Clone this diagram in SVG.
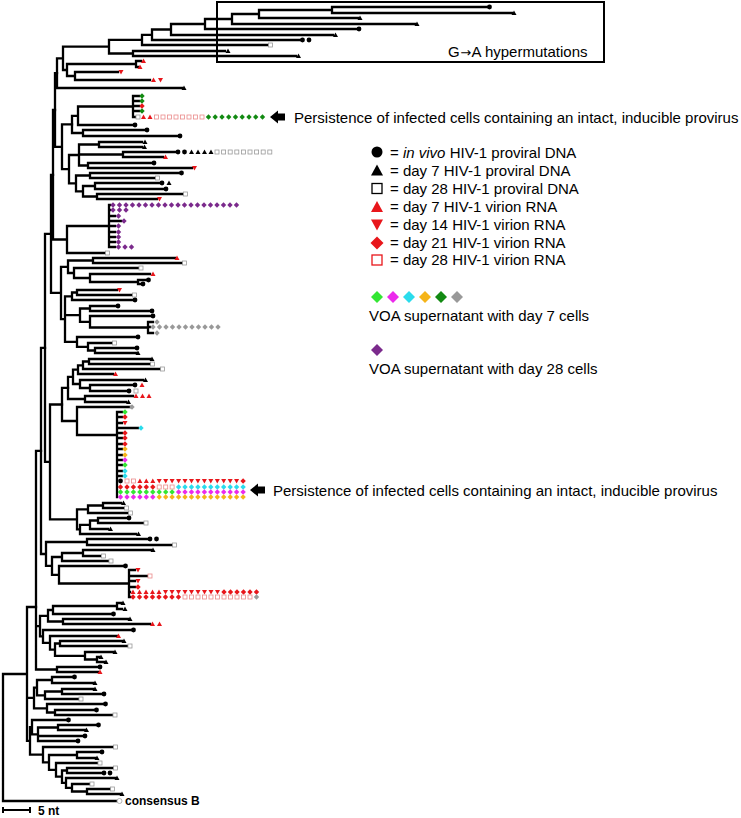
<svg xmlns="http://www.w3.org/2000/svg" width="741" height="818" viewBox="0 0 741 818">
<style>
.br{fill:none;stroke:#000;stroke-width:2.3;stroke-linecap:square}
.k{fill:#000}.r{fill:#e8161b}.g{fill:#33e633}.m{fill:#ec2aec}.c{fill:#2adcec}.y{fill:#f5b419}.dg{fill:#128a12}.gr{fill:#999}.p{fill:#7b2a8c}
.sq{fill:#fff;stroke:#999;stroke-width:.8}.sr{fill:#fff;stroke:#ea8a8a;stroke-width:.8}
text{font-family:"Liberation Sans",Arial,sans-serif;font-size:15px;fill:#000}
.b{font-weight:bold;font-size:12px}
</style>
<defs>
<circle id="o" r="2.4"/>
<path id="t" d="M0-2.5L2.5 1.9H-2.5Z"/>
<path id="v" d="M0 2.5L2.5-1.9H-2.5Z"/>
<path id="d" d="M0-2.7L2.7 0L0 2.7L-2.7 0Z"/>
<rect id="s" x="-2" y="-2" width="4" height="4"/>
</defs>
<rect width="741" height="818" fill="#fff"/>

<g id="connectors">
<path class="br" d="M332 7V13M332 7H487M332 13H512M259 10V18M259 10H332M259 18H358M232 14V24M232 14H259M232 24H415M205 19V29M205 19H232M205 29H357M171 24V35M171 24H205M171 35H333M152 29.5V40M152 29.5H171M152 40H300M142 34.8V45M142 34.8H152M142 45H268M133 51V56M133 51H225M133 56H296M109 39.9V53.5M109 39.9H142M109 53.5H133M136 61V67M136 61H141M136 67H138M75 72V80M75 72H118M75 80H150M67 64V76M67 64H136M67 76H75M63 46.7V70M63 46.7H109M63 70H67M57 58.4V88M57 58.4H63M57 88H182"/>
<path class="br" d="M133 96V117M133 96H139M133 101H139M133 106H139M133 111H139M133 117H135M78 106.5V125M78 106.5H133M78 125H133M83 130V136M83 130H145M83 136H178M72 115.8V133M72 115.8H78M72 133H83"/>
<path class="br" d="M99 142V147M99 142H142M99 147H142M123 152V157M123 152H175M123 157H163M88 163V168M88 163H152M88 168H192M79 144.5V165.5M79 144.5H99M79 154.5H123M79 165.5H88M90 173V178M90 173H179M90 178H155M95 183V189M95 183H160M95 189H164M97 194V199M97 194H183M97 199H157M83 186V196.5M83 186H95M83 196.5H97M76 175.5V191.3M76 175.5H90M76 191.3H83M69 155V183.4M69 155H79M69 183.4H76M62 124.4V169.2M62 124.4H72M62 169.2H69M55 73.2V146.8M55 73.2H57M55 146.8H62"/>
<path class="br" d="M109 205V247M109 205H110M109 210H110M109 216H115M109 221H121M109 226H115M109 232H115M109 237H115M109 242H115M109 247H115M67 226V253M67 226H109M67 253H105M53 110V239.5M53 110H55M53 239.5H67"/>
<path class="br" d="M93 258V263M93 258H175M93 263H182M138 280V284M138 280H146M138 284H141M90 274V282M90 274H150M90 282H138M74 268V278M74 268H138M74 278H90M68 260.5V273M68 260.5H93M68 273H74M77 290V295M77 290H117M77 295H132M72 292.5V300M72 292.5H77M72 300H133M90 306V311M90 306H116M90 311H150M148 322V333M148 322H153M148 327H150M148 333H153M90 316V327.5M90 316H151M90 327.5H148M80 308.5V321.8M80 308.5H90M80 321.8H90M95 348V353M95 348H135M95 353H136M88 343V350.5M88 343H112M88 350.5H95M77 337V346.8M77 337H136M77 346.8H88M65 296.3V341.9M65 296.3H72M65 315.1H80M65 341.9H77M61 266.8V319.1M61 266.8H68M61 319.1H65M51 174.8V292.9M51 174.8H53M51 292.9H61"/>
<path class="br" d="M89 359V364M89 359H150M89 364H150M83 361.5V369M83 361.5H89M83 369H160M78 365.3V374M78 365.3H83M78 374H113M90 385V391M90 385H133M90 391H127M80 380V388M80 380H143M80 388H90M73 369.6V384M73 369.6H78M73 384H80M85 396V402M85 396H133M85 402H126M68 376.8V399M68 376.8H73M68 399H85"/>
<path class="br" d="M117 412V497M117 412H122M117 417H122M117 423H122M117 428H138M117 433H122M117 438H122M117 444H122M117 449H122M117 455H122M117 460H122M117 465H122M117 471H122M117 476H122M77 407V435M77 407H130M77 435H117M62 387.9V421M62 387.9H68M62 421H77"/>
<path class="br" d="M103 503V508M103 503H121M103 508H124M88 505.5V513M88 505.5H103M88 513H128M98 518V523M98 518H127M98 523H143M90 520.5V529M90 520.5H98M90 529H108M80 524.8V534M80 524.8H90M80 534H136M77 509.3V529.4M77 509.3H88M77 529.4H80M50 404.5V519.3M50 404.5H62M50 519.3H77M45 233.8V461.9M45 233.8H51M45 461.9H50"/>
<path class="br" d="M87 539V545M87 539H148M87 545H172M83 550V556M83 550H151M83 556H100M62 553V561M62 553H83M62 561H108M129 570V597M129 570H135M129 576H147M129 581H135M129 587H135M129 592H130M129 597H130M59 566V583.5M59 566H123M59 583.5H129M52 557V574.8M52 557H62M52 574.8H59M46 542V565.9M46 542H87M46 565.9H52M41 347.9V554M41 347.9H45M41 554H46"/>
<path class="br" d="M117 603V609M117 603H121M117 609H122M53 606V614M53 606H117M53 614H112M63 619V624M63 619H128M63 624H150M48 610V621.5M48 610H53M48 621.5H63M60 641V646M60 641H122M60 646H128M97 657V662M97 657H99M97 662H104M85 652V659.5M85 652H113M85 659.5H97M55 643.5V655.8M55 643.5H60M55 655.8H85M50 636V649.6M50 636H117M50 649.6H55M43 630V642.8M43 630H132M43 642.8H50M40 615.8V636.4M40 615.8H48M40 636.4H43M57 667V672M57 667H98M57 672H98M36 450.9V669.5M36 450.9H41M36 626.1H40M36 669.5H57"/>
<path class="br" d="M52 677V683M52 677H73M52 683H93M62 689V694M62 689H93M62 694H102M45 691.5V699M45 691.5H62M45 699H79M37 680V695.3M37 680H52M37 695.3H45M55 710V715M55 710H95M55 715H113M47 704V712.5M47 704H104M47 712.5H55M34 687.6V708.3M34 687.6H37M34 708.3H47M58 725V730M58 725H97M58 730H85M38 727.5V741M38 727.5H58M38 736H83M38 741H77M32 720V734.3M32 720H67M32 734.3H38M77 752V758M77 752H100M77 758H95M87 789V794M87 789H110M87 794H120M72 784V791.5M72 784H90M72 791.5H87M66 778V787.8M66 778H115M66 787.8H72M67 768V773M67 768H113M67 773H102M62 770.5V782.9M62 770.5H67M62 782.9H66M56 763V776.7M56 763H98M56 776.7H62M49 755V769.9M49 755H77M49 769.9H56M43 747V762.4M43 747H113M43 762.4H49M30 727.1V754.7M30 727.1H32M30 754.7H43M27 607V740.9M27 607H36M27 697.9H34M27 740.9H30M3 674V801M3 674H27M3 801H117"/>
</g>

<g id="hypermutation-clade-markers">
<use href="#o" class="k" x="489.5" y="7"/><use href="#t" class="k" x="514" y="13"/><use href="#t" class="k" x="360" y="18"/><use href="#t" class="k" x="417" y="24"/><use href="#o" class="k" x="359" y="29"/><use href="#t" class="k" x="335.5" y="35"/><use href="#o" class="k" x="302.5" y="40"/><use href="#o" class="k" x="309" y="40"/><use href="#s" class="sq" x="270.5" y="45"/><use href="#t" class="k" x="228" y="51"/><use href="#t" class="k" x="298.5" y="56"/>
</g>
<g id="leaf-markers-top">
<use href="#t" class="r" x="143.5" y="61"/><use href="#t" class="r" x="140" y="67"/><use href="#v" class="r" x="121" y="72"/><use href="#t" class="r" x="153.5" y="80"/><use href="#v" class="r" x="160.5" y="80"/><use href="#t" class="k" x="184" y="88"/>
<use href="#d" class="dg" x="142" y="96"/><use href="#d" class="dg" x="142" y="101"/><use href="#d" class="r" x="142" y="106"/><use href="#d" class="dg" x="142" y="111"/>
<g transform="translate(0,117)"><use href="#s" class="sq" x="138"/><use href="#t" class="r" x="143.5"/><use href="#t" class="r" x="150"/><use href="#s" class="sr" x="156.5"/><use href="#s" class="sr" x="163"/><use href="#s" class="sr" x="169.5"/><use href="#s" class="sr" x="176"/><use href="#s" class="sr" x="182.5"/><use href="#s" class="sr" x="189"/><use href="#s" class="sr" x="195.5"/><use href="#s" class="sr" x="202"/><use href="#d" class="dg" x="208.5"/><use href="#d" class="dg" x="215.2"/><use href="#d" class="dg" x="222"/><use href="#d" class="dg" x="228.7"/><use href="#d" class="dg" x="235.5"/><use href="#d" class="dg" x="242.2"/><use href="#d" class="dg" x="249"/><use href="#d" class="dg" x="255.7"/><use href="#d" class="dg" x="262.5"/></g>
<use href="#o" class="k" x="135" y="125"/><use href="#o" class="k" x="147" y="130"/><use href="#o" class="k" x="180" y="136"/><use href="#t" class="k" x="145" y="142"/><use href="#t" class="k" x="144.5" y="147"/>
<g transform="translate(0,152)"><use href="#o" class="k" x="178"/><use href="#o" class="k" x="184.5"/><use href="#t" class="k" x="191.5"/><use href="#t" class="k" x="198"/><use href="#t" class="k" x="204.5"/><use href="#t" class="k" x="211"/><use href="#s" class="sq" x="217"/><use href="#s" class="sq" x="223.6"/><use href="#s" class="sq" x="230.2"/><use href="#s" class="sq" x="236.8"/><use href="#s" class="sq" x="243.4"/><use href="#s" class="sq" x="250"/><use href="#s" class="sq" x="256.6"/><use href="#s" class="sq" x="263.2"/><use href="#s" class="sq" x="269.8"/></g>
<use href="#t" class="r" x="165.5" y="157"/><use href="#o" class="k" x="154" y="163"/><use href="#v" class="r" x="194.5" y="168"/><use href="#o" class="k" x="181.5" y="173"/><use href="#s" class="sq" x="157.5" y="178"/><use href="#o" class="k" x="162" y="183"/><use href="#t" class="k" x="169" y="183"/><use href="#o" class="k" x="166" y="189"/><use href="#s" class="sq" x="185.5" y="194"/><use href="#v" class="r" x="159.5" y="199"/>
</g>
<g id="purple-clade-markers">
<g transform="translate(0,205)"><use href="#d" class="p" x="113"/><use href="#d" class="p" x="119.5"/><use href="#d" class="p" x="126"/><use href="#d" class="p" x="132.5"/><use href="#d" class="p" x="139"/><use href="#d" class="p" x="145.5"/><use href="#d" class="p" x="152"/><use href="#d" class="p" x="158.5"/><use href="#d" class="p" x="165"/><use href="#d" class="p" x="171.5"/><use href="#d" class="p" x="178"/><use href="#d" class="p" x="184.5"/><use href="#d" class="p" x="191"/><use href="#d" class="p" x="197.5"/><use href="#d" class="p" x="204"/><use href="#d" class="p" x="210.5"/><use href="#d" class="p" x="217"/><use href="#d" class="p" x="223.5"/><use href="#d" class="p" x="230"/><use href="#d" class="p" x="236.5"/></g>
<use href="#d" class="p" x="113" y="210"/><use href="#d" class="p" x="119.5" y="210"/><use href="#d" class="p" x="126" y="210"/><use href="#d" class="p" x="118.5" y="216"/><use href="#d" class="p" x="124" y="221"/><use href="#d" class="p" x="118.5" y="226"/><use href="#d" class="p" x="118.5" y="232"/><use href="#d" class="p" x="118.5" y="237"/><use href="#d" class="p" x="118.5" y="242"/><use href="#d" class="p" x="118.5" y="247"/><use href="#d" class="p" x="125" y="247"/><use href="#d" class="p" x="131.5" y="247"/>
<use href="#s" class="sq" x="107.5" y="253"/>
</g>
<g id="leaf-markers-middle">
<use href="#t" class="r" x="177" y="258"/><use href="#s" class="sq" x="184.5" y="263"/><use href="#s" class="sq" x="141" y="268"/><use href="#t" class="r" x="153" y="274"/><use href="#o" class="k" x="148.5" y="280"/><use href="#o" class="k" x="143" y="284"/><use href="#v" class="r" x="119.5" y="290"/><use href="#s" class="sq" x="134.5" y="295"/><use href="#o" class="k" x="135" y="300"/><use href="#o" class="k" x="118" y="306"/><use href="#o" class="k" x="152" y="311"/><use href="#o" class="k" x="153" y="316"/>
<use href="#d" class="gr" x="157" y="322"/><use href="#d" class="gr" x="157" y="333"/>
<g transform="translate(0,327)"><use href="#d" class="gr" x="153"/><use href="#d" class="gr" x="159.5"/><use href="#d" class="gr" x="166"/><use href="#d" class="gr" x="172.5"/><use href="#d" class="gr" x="179"/><use href="#d" class="gr" x="185.5"/><use href="#d" class="gr" x="192"/><use href="#d" class="gr" x="198.5"/><use href="#d" class="gr" x="205"/><use href="#d" class="gr" x="211.5"/><use href="#d" class="gr" x="218"/></g>
<use href="#o" class="k" x="138" y="337"/><use href="#s" class="sq" x="114.5" y="343"/><use href="#o" class="k" x="137" y="348"/><use href="#t" class="k" x="138" y="353"/><use href="#t" class="k" x="152" y="359"/><use href="#s" class="sq" x="152.5" y="364"/><use href="#s" class="sq" x="162.5" y="369"/><use href="#t" class="r" x="115.5" y="374"/><use href="#t" class="k" x="145.5" y="380"/><use href="#o" class="k" x="135" y="385"/><use href="#t" class="r" x="142" y="385"/><use href="#o" class="k" x="129" y="391"/><use href="#s" class="sq" x="136" y="391"/><use href="#t" class="r" x="136" y="396"/><use href="#t" class="r" x="142.5" y="396"/><use href="#t" class="r" x="149" y="396"/><use href="#t" class="k" x="128.5" y="402"/><use href="#d" class="gr" x="132" y="407"/>
</g>
<g id="persistent-clone-markers">
<use href="#d" class="g" x="125" y="412"/><use href="#d" class="r" x="125" y="417"/><use href="#v" class="r" x="125" y="423"/><use href="#d" class="c" x="141" y="428"/><use href="#d" class="r" x="125" y="433"/><use href="#d" class="r" x="125" y="438"/><use href="#d" class="r" x="125" y="444"/><use href="#d" class="y" x="125" y="449"/><use href="#d" class="y" x="125" y="455"/><use href="#d" class="m" x="125" y="460"/><use href="#d" class="g" x="125" y="465"/><use href="#d" class="c" x="125" y="471"/><use href="#d" class="c" x="125" y="476"/>
<g transform="translate(0,481)"><use href="#o" class="k" x="120.5"/><use href="#s" class="sr" x="127"/><use href="#s" class="sr" x="133.4"/><use href="#t" class="r" x="139.9"/><use href="#t" class="r" x="146.3"/><use href="#t" class="r" x="152.8"/><use href="#v" class="r" x="159.2"/><use href="#v" class="r" x="165.7"/><use href="#v" class="r" x="172.1"/><use href="#v" class="r" x="178.6"/><use href="#v" class="r" x="185"/><use href="#v" class="r" x="191.5"/><use href="#v" class="r" x="197.9"/><use href="#v" class="r" x="204.4"/><use href="#v" class="r" x="210.8"/><use href="#v" class="r" x="217.3"/><use href="#v" class="r" x="223.7"/><use href="#v" class="r" x="230.2"/><use href="#v" class="r" x="236.6"/><use href="#d" class="r" x="243.1"/></g>
<g transform="translate(0,487)"><use href="#d" class="r" x="120.5"/><use href="#d" class="r" x="127"/><use href="#d" class="r" x="133.4"/><use href="#d" class="r" x="139.9"/><use href="#d" class="r" x="146.3"/><use href="#d" class="r" x="152.8"/><use href="#s" class="sr" x="159.2"/><use href="#s" class="sr" x="165.7"/><use href="#s" class="sr" x="172.1"/><use href="#d" class="c" x="178.6"/><use href="#d" class="c" x="185"/><use href="#d" class="c" x="191.5"/><use href="#d" class="c" x="197.9"/><use href="#d" class="c" x="204.4"/><use href="#d" class="c" x="210.8"/><use href="#d" class="c" x="217.3"/><use href="#d" class="c" x="223.7"/><use href="#d" class="c" x="230.2"/><use href="#d" class="c" x="236.6"/><use href="#d" class="c" x="243.1"/></g>
<g transform="translate(0,492)"><use href="#d" class="g" x="120.5"/><use href="#d" class="g" x="127"/><use href="#d" class="g" x="133.4"/><use href="#d" class="g" x="139.9"/><use href="#d" class="g" x="146.3"/><use href="#d" class="g" x="152.8"/><use href="#d" class="g" x="159.2"/><use href="#d" class="g" x="165.7"/><use href="#d" class="g" x="172.1"/><use href="#d" class="m" x="178.6"/><use href="#d" class="m" x="185"/><use href="#d" class="m" x="191.5"/><use href="#d" class="m" x="197.9"/><use href="#d" class="m" x="204.4"/><use href="#d" class="m" x="210.8"/><use href="#d" class="m" x="217.3"/><use href="#d" class="m" x="223.7"/><use href="#d" class="m" x="230.2"/><use href="#d" class="m" x="236.6"/><use href="#d" class="m" x="243.1"/></g>
<g transform="translate(0,497)"><use href="#d" class="m" x="120.5"/><use href="#d" class="m" x="127"/><use href="#d" class="m" x="133.4"/><use href="#d" class="m" x="139.9"/><use href="#d" class="m" x="146.3"/><use href="#d" class="m" x="152.8"/><use href="#d" class="y" x="159.2"/><use href="#d" class="y" x="165.7"/><use href="#d" class="y" x="172.1"/><use href="#d" class="y" x="178.6"/><use href="#d" class="y" x="185"/><use href="#d" class="y" x="191.5"/><use href="#d" class="y" x="197.9"/><use href="#d" class="y" x="204.4"/><use href="#d" class="y" x="210.8"/><use href="#d" class="y" x="217.3"/><use href="#d" class="y" x="223.7"/><use href="#d" class="y" x="230.2"/><use href="#d" class="y" x="236.6"/><use href="#d" class="y" x="243.1"/></g>
</g>
<g id="leaf-markers-lower">
<use href="#t" class="k" x="123.5" y="503"/><use href="#s" class="sq" x="126.5" y="508"/><use href="#s" class="sq" x="130.5" y="513"/><use href="#o" class="k" x="129" y="518"/><use href="#s" class="sq" x="146" y="523"/><use href="#t" class="k" x="110.5" y="529"/><use href="#t" class="k" x="138.5" y="534"/><use href="#o" class="k" x="150" y="539"/><use href="#o" class="k" x="156.5" y="539"/><use href="#s" class="sq" x="174.5" y="545"/><use href="#t" class="k" x="153" y="550"/><use href="#s" class="sq" x="103.5" y="556"/><use href="#s" class="sq" x="111" y="561"/><use href="#o" class="k" x="125.5" y="566"/>
<use href="#v" class="r" x="138" y="570"/><use href="#s" class="sr" x="150" y="576"/><use href="#v" class="r" x="138" y="581"/><use href="#d" class="r" x="138" y="587"/>
<g transform="translate(0,592)"><use href="#t" class="r" x="133"/><use href="#t" class="r" x="139.5"/><use href="#t" class="r" x="146"/><use href="#t" class="r" x="152.5"/><use href="#t" class="r" x="159"/><use href="#v" class="r" x="165.5"/><use href="#v" class="r" x="172"/><use href="#v" class="r" x="178.5"/><use href="#v" class="r" x="185"/><use href="#v" class="r" x="191.5"/><use href="#v" class="r" x="198"/><use href="#v" class="r" x="204.5"/><use href="#v" class="r" x="211"/><use href="#v" class="r" x="217.5"/><use href="#d" class="r" x="224"/><use href="#d" class="r" x="230.5"/><use href="#d" class="r" x="237"/><use href="#d" class="r" x="243.5"/><use href="#d" class="r" x="250"/><use href="#d" class="r" x="256.5"/></g>
<g transform="translate(0,597)"><use href="#d" class="r" x="133"/><use href="#d" class="r" x="139.5"/><use href="#d" class="r" x="146"/><use href="#d" class="r" x="152.5"/><use href="#d" class="r" x="159"/><use href="#d" class="r" x="165.5"/><use href="#d" class="r" x="172"/><use href="#d" class="r" x="178.5"/><use href="#s" class="sr" x="185"/><use href="#s" class="sr" x="191.5"/><use href="#s" class="sr" x="198"/><use href="#s" class="sr" x="204.5"/><use href="#s" class="sr" x="211"/><use href="#s" class="sr" x="217.5"/><use href="#s" class="sr" x="224"/><use href="#s" class="sr" x="230.5"/><use href="#s" class="sr" x="237"/><use href="#s" class="sr" x="243.5"/><use href="#s" class="sr" x="250"/><use href="#d" class="gr" x="256.5"/></g>
<use href="#t" class="k" x="123" y="603"/><use href="#t" class="k" x="125" y="609"/><use href="#o" class="k" x="113.5" y="614"/><use href="#t" class="k" x="130" y="619"/><use href="#t" class="r" x="152.5" y="624"/><use href="#t" class="r" x="159.5" y="624"/><use href="#o" class="k" x="133.5" y="630"/><use href="#t" class="r" x="118.5" y="636"/><use href="#t" class="k" x="124" y="641"/><use href="#s" class="sq" x="130" y="646"/><use href="#t" class="k" x="115" y="652"/><use href="#t" class="k" x="101" y="657"/><use href="#t" class="k" x="106" y="662"/><use href="#o" class="k" x="100" y="667"/><use href="#t" class="r" x="100" y="672"/>
<use href="#o" class="k" x="74.5" y="677"/><use href="#t" class="k" x="95" y="683"/><use href="#t" class="k" x="95" y="689"/><use href="#o" class="k" x="104" y="694"/><use href="#s" class="sq" x="81" y="699"/><use href="#o" class="k" x="105.5" y="704"/><use href="#o" class="k" x="96.5" y="710"/><use href="#s" class="sq" x="115" y="715"/><use href="#o" class="k" x="68.5" y="720"/><use href="#o" class="k" x="98.5" y="725"/><use href="#t" class="k" x="86.5" y="730"/><use href="#o" class="k" x="85" y="736"/><use href="#o" class="k" x="78" y="741"/><use href="#s" class="sq" x="115.5" y="747"/><use href="#o" class="k" x="102" y="752"/><use href="#t" class="k" x="97" y="758"/><use href="#s" class="sq" x="100" y="763"/><use href="#s" class="sq" x="115.5" y="768"/><use href="#o" class="k" x="104" y="773"/><use href="#o" class="k" x="110" y="773"/><use href="#t" class="k" x="117" y="778"/><use href="#s" class="sq" x="92" y="784"/><use href="#s" class="sq" x="112.5" y="789"/><use href="#t" class="k" x="122" y="794"/>
</g>
<g id="consensus-b">
<circle cx="119.5" cy="801" r="2.5" fill="#fff" stroke="#aaa" stroke-width=".9"/>
<text class="b" x="125" y="805">consensus B</text>
</g>
<g id="scale-bar">
<path d="M3 810H30M3 807V813M30 807V813" fill="none" stroke="#000" stroke-width="2"/>
<text class="b" x="38" y="815">5 nt</text>
</g>

<g id="hypermutation-box">
<rect x="217" y="2" width="387" height="60" fill="none" stroke="#000" stroke-width="2"/>
<text x="448" y="57">G<tspan font-family="'DejaVu Sans',sans-serif" font-size="13" dx="0.5">→</tspan><tspan dx="0.5">A hypermutations</tspan></text>
</g>
<g id="annotation-1">
<path d="M270 117L278 110.5V113.5H285V120.5H278V123.5Z" fill="#000"/>
<text x="294" y="122.5">Persistence of infected cells containing an intact, inducible provirus</text>
</g>
<g id="annotation-2">
<path d="M250 490L258 483.5V486.5H265V493.5H258V496.5Z" fill="#000"/>
<text x="273" y="495.5">Persistence of infected cells containing an intact, inducible provirus</text>
</g>

<g id="legend">
<circle cx="377" cy="152" r="5.5" fill="#000"/>
<text x="390" y="157.5">= <tspan font-style="italic">in vivo</tspan> HIV-1 proviral DNA</text>
<path d="M377 164.5L383 175.5H371Z" fill="#000"/>
<text x="390" y="176">= day 7 HIV-1 proviral DNA</text>
<rect x="372" y="183.5" width="10" height="10" fill="#fff" stroke="#000" stroke-width="1.3"/>
<text x="390" y="194.3">= day 28 HIV-1 proviral DNA</text>
<path d="M377 201L383 212H371Z" fill="#e8161b"/>
<text x="390" y="212">= day 7 HIV-1 virion RNA</text>
<path d="M377 230.5L383 219.5H371Z" fill="#e8161b"/>
<text x="390" y="230.3">= day 14 HIV-1 virion RNA</text>
<path d="M377 236.5L383.5 243L377 249.5L370.5 243Z" fill="#e8161b"/>
<text x="390" y="248">= day 21 HIV-1 virion RNA</text>
<rect x="372" y="255" width="10" height="10" fill="#fff" stroke="#e8161b" stroke-width="1.3"/>
<text x="390" y="265.3">= day 28 HIV-1 virion RNA</text>
</g>
<g id="voa-legend">
<path d="M377 291L383 297L377 303L371 297Z" fill="#33e633"/>
<path d="M393 291L399 297L393 303L387 297Z" fill="#ec2aec"/>
<path d="M409 291L415 297L409 303L403 297Z" fill="#2adcec"/>
<path d="M425 291L431 297L425 303L419 297Z" fill="#f5b419"/>
<path d="M441 291L447 297L441 303L435 297Z" fill="#128a12"/>
<path d="M457 291L463 297L457 303L451 297Z" fill="#999"/>
<text x="369" y="321">VOA supernatant with day 7 cells</text>
<path d="M377 344L383 350L377 356L371 350Z" fill="#7b2a8c"/>
<text x="369" y="374">VOA supernatant with day 28 cells</text>
</g>
</svg>
